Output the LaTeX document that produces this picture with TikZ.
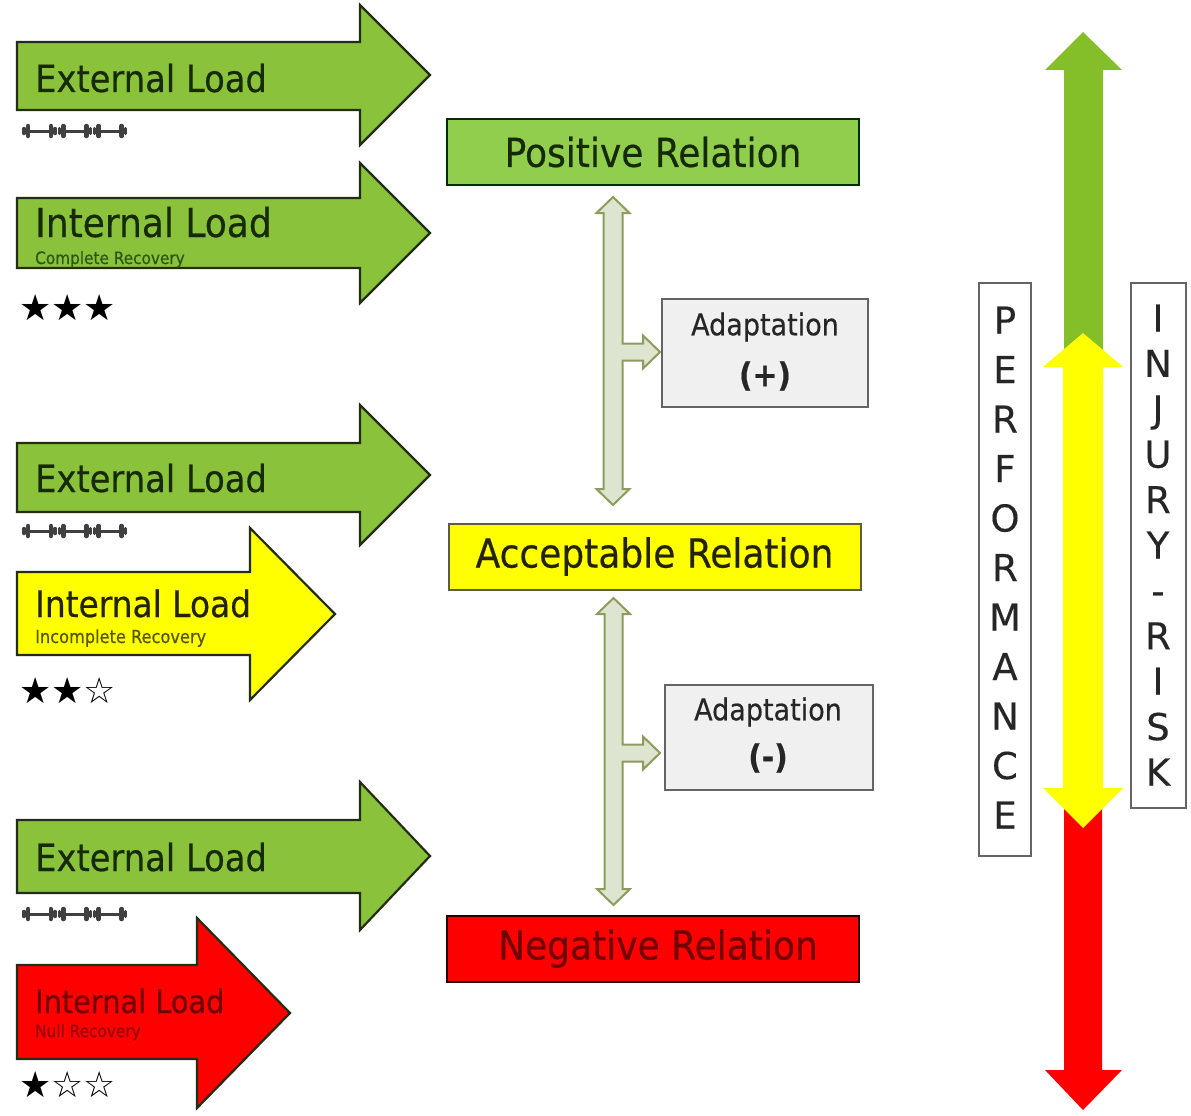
\documentclass[tikz,border=0pt]{standalone}
\usepackage{fontspec}
\setmainfont{DejaVu Sans}[FakeStretch=0.9, FakeBold=0.45]
\newfontfamily\vfont{DejaVu Sans}[FakeBold=0.3]
\newfontfamily\starfont{DejaVu Sans}
\newcommand\fsz[1]{\fontsize{#1}{#1}\selectfont}
\definecolor{garrow}{RGB}{138,194,60}
\definecolor{gbox}{RGB}{146,206,78}
\definecolor{gbig}{RGB}{132,190,40}
\definecolor{gtext}{RGB}{22,42,5}
\definecolor{gsub}{RGB}{45,85,20}
\definecolor{yellowf}{RGB}{255,255,0}
\definecolor{ytext}{RGB}{35,35,0}
\definecolor{ysub}{RGB}{85,85,0}
\definecolor{redf}{RGB}{255,0,0}
\definecolor{rtext}{RGB}{115,0,0}
\definecolor{rsub}{RGB}{150,0,0}
\definecolor{outl}{RGB}{35,45,20}
\definecolor{dafill}{RGB}{221,228,208}
\definecolor{daline}{RGB}{140,156,92}
\definecolor{adfill}{RGB}{240,240,240}
\definecolor{adline}{RGB}{100,100,100}
\tikzset{
  larrow/.style={draw=outl, line width=2.2pt, line join=miter},
  relbox/.style={draw=#1, line width=2pt, minimum width=412pt, minimum height=66pt, inner sep=0pt},
  adbox/.style={draw=adline, fill=adfill, line width=1.5pt, minimum width=206pt, minimum height=108pt, inner sep=0pt},
  dbl/.style={draw=daline, fill=dafill, line width=2pt, line join=miter},
  vbox/.style={draw=adline, fill=white, line width=1.5pt, inner sep=0pt},
  vletter/.style={font=\vfont\fsz{37}, text=black!85, anchor=base, inner sep=0pt},
  bigtxt/.style={anchor=base west, inner sep=0pt},
  starrow/.style={anchor=west, inner sep=0pt, font=\starfont\fsz{36}},
  bell/.style={draw=black!75, line cap=round}
}
\newcommand\blockarrow[8]{%
  \draw[#1] (#2,#3) -- (#5,#3) -- (#5,#6) -- (#8,{(#6+#7)/2}) -- (#5,#7) -- (#5,#4) -- (#2,#4) -- cycle;}
\newcommand\dumbbells[2]{%
  \foreach \k in {0,1,2}{%
    \pgfmathsetmacro\xo{#1+35.3*\k}
    \draw[bell, line width=3pt] (\xo+3,#2) -- (\xo+32,#2);
    \draw[bell, line width=4.5pt] (\xo+6,#2-5) -- (\xo+6,#2+5);
    \draw[bell, line width=4.5pt] (\xo+29,#2-5) -- (\xo+29,#2+5);
    \draw[bell, line width=3.5pt] (\xo+2,#2-2.5) -- (\xo+2,#2+2.5);
    \draw[bell, line width=3.5pt] (\xo+33,#2-2.5) -- (\xo+33,#2+2.5);
  }}
\begin{document}
\begin{tikzpicture}[x=1pt,y=-1pt]
\useasboundingbox (0,0) rectangle (1191,1116);
\fill[white] (0,0) rectangle (1191,1116);

% ---------- left block arrows ----------
\blockarrow{larrow, fill=garrow}{17}{42}{110}{360}{5}{145}{430}
\node[bigtxt, font=\fsz{37.5}, text=gtext] (ext1) at (35,92) {External Load};
\dumbbells{22}{131}

\blockarrow{larrow, fill=garrow}{17}{198}{268}{360}{163}{303}{430}
\node[bigtxt, font=\fsz{40}, text=gtext] (int1) at (35,237) {Internal Load};
\node[bigtxt, font=\fsz{17}, text=gsub] (sub1) at (35,264) {Complete Recovery};
\node[starrow] (st1) at (19,308) {★★★};

\blockarrow{larrow, fill=garrow}{17}{443}{512}{360}{405}{545}{430}
\node[bigtxt, font=\fsz{37.5}, text=gtext] (ext2) at (35,492) {External Load};
\dumbbells{22}{531}

\blockarrow{larrow, fill=yellowf}{17}{572}{655}{250}{528}{700}{335}
\node[bigtxt, font=\fsz{36.5}, text=ytext] (int2) at (35,617) {Internal Load};
\node[bigtxt, font=\fsz{18}, text=ysub] (sub2) at (35,643) {Incomplete Recovery};
\node[starrow] (st2) at (19,691) {★★☆};

\blockarrow{larrow, fill=garrow}{17}{820}{893}{360}{782}{930}{430}
\node[bigtxt, font=\fsz{37.5}, text=gtext] (ext3) at (35,871) {External Load};
\dumbbells{22}{914}

\blockarrow{larrow, fill=redf}{17}{965}{1059}{197}{918}{1108}{290}
\node[bigtxt, font=\fsz{32}, text=rtext] (int3) at (35,1013) {Internal Load};
\node[bigtxt, font=\fsz{17}, text=rsub] (sub3) at (35,1037) {Null Recovery};
\node[starrow] (st3) at (19,1085) {★☆☆};

% ---------- relation boxes ----------
\node[relbox={black!70!green!60!black}, fill=gbox, font=\fsz{40}, text=gtext] (pos) at (653,152) {Positive Relation};
\node[relbox={black!60!yellow!70!black}, fill=yellowf, font=\fsz{40}, text=ytext] (acc) at (654.5,556.5) {Acceptable Relation};
\node[relbox={black!70!red!50!black}, fill=redf, font=\fsz{40}, text=rtext] (neg) at (653,948.5) {\hspace*{10pt}Negative Relation};

% ---------- adaptation boxes ----------
\node[adbox] (adp) at (765,353) {};
\node[font=\fsz{30}, text=black!85, inner sep=0pt] (adpt) at (765,327) {Adaptation};
\node[font=\bfseries\fsz{33}, text=black!85, inner sep=0pt] (adps) at (765,376) {(+)};
\node[adbox, minimum width=208pt, minimum height=105pt] (adm) at (769,737.5) {};
\node[font=\fsz{30}, text=black!85, inner sep=0pt] (admt) at (768,712) {Adaptation};
\node[font=\bfseries\fsz{33}, text=black!85, inner sep=0pt] (adms) at (768,758) {(-)};

% ---------- double arrows with side arrows ----------
\draw[dbl] (613,197) -- (629.5,213) -- (622.5,213) -- (622.5,343.5) -- (643,343.5) -- (643,335.5)
  -- (660,352) -- (643,368.5) -- (643,360.5) -- (622.5,360.5) -- (622.5,489) -- (629.5,489)
  -- (613,505) -- (596.5,489) -- (603.5,489) -- (603.5,213) -- (596.5,213) -- cycle;
\draw[dbl] (613.5,598) -- (630,614) -- (622.5,614) -- (622.5,744.5) -- (643,744.5) -- (643,736.5)
  -- (660,753) -- (643,769.5) -- (643,761.5) -- (622.5,761.5) -- (622.5,889) -- (630,889)
  -- (613.5,905) -- (597,889) -- (604.5,889) -- (604.5,614) -- (597,614) -- cycle;

% ---------- right scale arrow ----------
\fill[gbig] (1083,32) -- (1122,70) -- (1103,70) -- (1103,380) -- (1064,380) -- (1064,70) -- (1045,70) -- cycle;
\fill[redf] (1064,790) -- (1102,790) -- (1102,1070) -- (1122,1070) -- (1083,1110) -- (1045,1070) -- (1064,1070) -- cycle;
\fill[yellowf] (1083,333) -- (1123,367) -- (1103,367) -- (1103,788) -- (1123,788) -- (1083,828)
  -- (1043,788) -- (1063,788) -- (1063,367) -- (1043,367) -- cycle;

% ---------- vertical label boxes ----------
\node[vbox, minimum width=52pt, minimum height=573pt] (perf) at (1005,569.5) {};
\foreach \c [count=\i] in {P,E,R,F,O,R,M,A,N,C,E}{
  \node[vletter] (pl\i) at (1005,{320+49.5*(\i-1)+13.5}) {\c};
}
\node[vbox, minimum width=55pt, minimum height=525pt] (inj) at (1158.5,545.5) {};
\foreach \c [count=\i] in {I,N,J,U,R,Y,-,R,I,S,K}{
  \node[vletter] (il\i) at (1158,{318+45.4*(\i-1)+13.5}) {\c};
}
\end{tikzpicture}
\end{document}
